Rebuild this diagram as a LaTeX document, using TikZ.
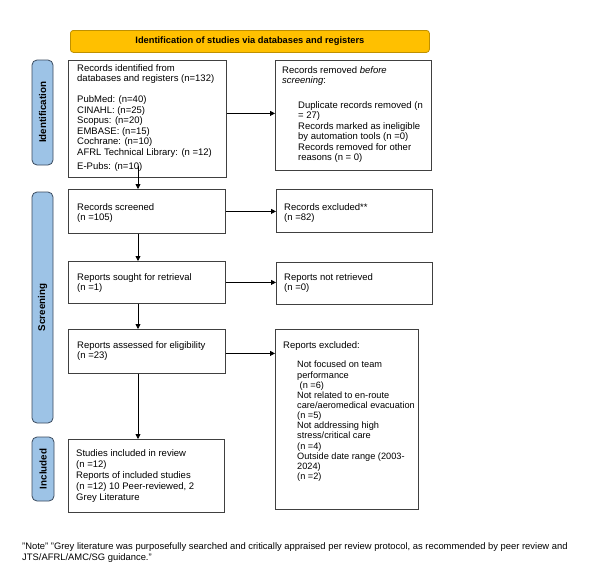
\documentclass[tikz,border=0pt]{standalone}
\usepackage{fontspec}
\setmainfont{Liberation Sans}
\usetikzlibrary{arrows.meta,calc}
\definecolor{prgold}{HTML}{FFC000}
\definecolor{prgoldb}{HTML}{BF9000}
\definecolor{prblue}{HTML}{9DC3E6}
\definecolor{prblueb}{HTML}{3A4A5E}
\definecolor{boxb}{HTML}{404040}
\begin{document}
\begin{tikzpicture}[x=1pt,y=-1pt,
  fbox/.style={draw=boxb, line width=0.8pt, anchor=north west, inner sep=0pt, fill=white},
  pill/.style={draw=prblueb, fill=prblue, line width=0.8pt, rounded corners=5pt, inner sep=0pt,
     font=\fontsize{9.8}{11}\selectfont\bfseries},
  txt/.style={anchor=north west, inner sep=0pt, align=left, font=\fontsize{9.5}{10.5}\selectfont},
  arr/.style={line width=0.8pt, -{Triangle[length=5pt,width=5pt]}}
]
\useasboundingbox[fill=white] (0,0) rectangle (590,568);

% title
\node[fbox, draw=prgoldb, fill=prgold, rounded corners=3pt, minimum width=359pt, minimum height=22pt,
  font=\fontsize{9.3}{11}\selectfont\bfseries] (title) at (70,30) {Identification of studies via databases and registers};

% side labels
\node[pill, minimum width=105pt, minimum height=21pt, rotate=90] (idpill) at (42.5,112.5) {Identification};
\node[pill, minimum width=231pt, minimum height=21pt, rotate=90] (scrpill) at (42.5,307.5) {Screening};
\node[pill, minimum width=64pt, minimum height=22pt, rotate=90] (incpill) at (43,469) {Included};

% boxes
\node[fbox, minimum width=158pt, minimum height=117pt] (box1) at (68,60) {};
\node[fbox, minimum width=156pt, minimum height=110pt] (box2) at (275,60) {};
\node[fbox, minimum width=157pt, minimum height=44pt] (screened) at (68,189) {};
\node[fbox, minimum width=156pt, minimum height=43pt] (excluded) at (276,189) {};
\node[fbox, minimum width=157pt, minimum height=42pt] (sought) at (68,261) {};
\node[fbox, minimum width=156pt, minimum height=42pt] (notret) at (276,262) {};
\node[fbox, minimum width=157pt, minimum height=44pt] (assessed) at (68,329) {};
\node[fbox, minimum width=143pt, minimum height=180pt] (repexcl) at (275,329) {};
\node[fbox, minimum width=156pt, minimum height=73pt] (included) at (68,439) {};

% texts
\node[txt] (t1) at (77,64) {Records identified from\\databases and registers (n=132)\\[10.5pt]PubMed: (n=40)\\CINAHL: (n=25)\\Scopus: (n=20)\\EMBASE: (n=15)\\Cochrane: (n=10)\\AFRL Technical Library: (n =12)\\[4pt]E-Pubs: (n=10)};
\node[txt] (t2) at (282,66) {Records removed \textit{before}\\\textit{screening}:};
\node[txt] (t2b) at (298,101) {Duplicate records removed (n\\= 27)\\Records marked as ineligible\\by automation tools (n =0)\\Records removed for other\\reasons (n = 0)};
\node[txt] (t3) at (77,203) {Records screened\\(n =105)};
\node[txt] (t4) at (284,203) {Records excluded**\\(n =82)};
\node[txt] (t5) at (77,273) {Reports sought for retrieval\\(n =1)};
\node[txt] (t6) at (284,273) {Reports not retrieved\\(n =0)};
\node[txt] (t7) at (77,341) {Reports assessed for eligibility\\(n =23)};
\node[txt] (t8) at (283,341) {Reports excluded:};
\node[txt, font=\fontsize{9.2}{10.15}\selectfont] (t8b) at (297,361) {Not focused on team\\performance\\\hspace*{2.5pt}(n =6)\\Not related to en-route\\care/aeromedical evacuation\\(n =5)\\Not addressing high\\stress/critical care\\(n =4)\\Outside date range (2003-\\2024)\\(n =2)};
\node[txt, font=\fontsize{9.5}{11}\selectfont] (t9) at (76,449) {Studies included in review\\(n =12)\\Reports of included studies\\(n =12) 10 Peer-reviewed, 2\\Grey Literature};
\node[txt, font=\fontsize{9.4}{11}\selectfont] (note) at (22,542) {"Note" "Grey literature was purposefully searched and critically appraised per review protocol, as recommended by peer review and\\JTS/AFRL/AMC/SG guidance."};

% connectors
\coordinate (col) at (138,0);
\draw[arr] ([yshift=5.5pt]box1.east) -- ([yshift=5.5pt]box1.east -| box2.west);
\draw[arr] ([yshift=12pt]box1.south -| col) -- (screened.north -| col);
\draw[arr] (screened.east) -- (screened.east -| excluded.west);
\draw[arr] (screened.south -| col) -- (sought.north -| col);
\draw[arr] (sought.east) -- (sought.east -| notret.west);
\draw[arr] (sought.south -| col) -- (assessed.north -| col);
\draw[arr] ([yshift=-2pt]assessed.east) -- ([yshift=-2pt]assessed.east -| repexcl.west);
\draw[arr] (assessed.south -| col) -- (included.north -| col);
\end{tikzpicture}
\end{document}
